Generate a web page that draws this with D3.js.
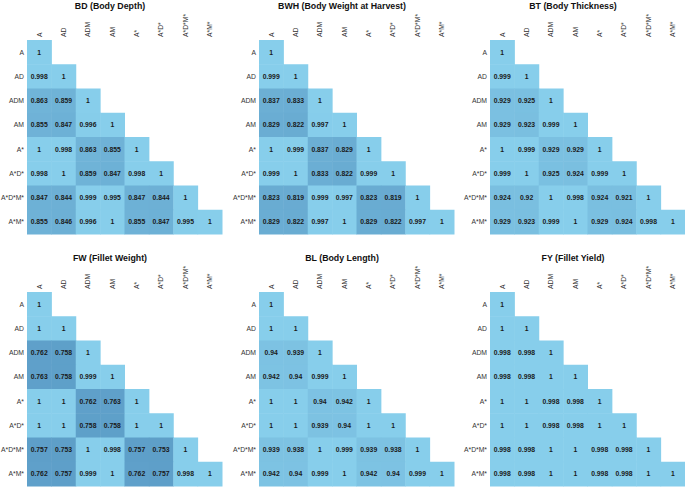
<!DOCTYPE html>
<html>
<head>
<meta charset="utf-8">
<script src="https://cdn.jsdelivr.net/npm/d3@7"></script>
<style>
  body { margin: 0; background: #fff; }
  svg { display: block; font-family: "Liberation Sans", Helvetica, Arial, sans-serif; }
  .title { font-weight: bold; font-size: 8.8px; fill: #111; }
  .lab { font-size: 6.8px; fill: #333; }
  .val { font-size: 6.8px; font-weight: bold; fill: #1a1a1a; }
</style>
</head>
<body>
<svg id="chart" width="685" height="487"></svg>
<script>
const labels = ['A', 'AD', 'ADM', 'AM', 'A*', 'A*D*', 'A*D*M*', 'A*M*'];

const titles = [
  'BD (Body Depth)', 'BWH (Body Weight at Harvest)', 'BT (Body Thickness)',
  'FW (Fillet Weight)', 'BL (Body Length)', 'FY (Fillet Yield)'
];

// lower triangles, row by row
const bd = [
  [1],
  [0.998, 1],
  [0.863, 0.859, 1],
  [0.855, 0.847, 0.996, 1],
  [1, 0.998, 0.863, 0.855, 1],
  [0.998, 1, 0.859, 0.847, 0.998, 1],
  [0.847, 0.844, 0.999, 0.995, 0.847, 0.844, 1],
  [0.855, 0.846, 0.996, 1, 0.855, 0.847, 0.995, 1]
];
const bwh = [
  [1],
  [0.999, 1],
  [0.837, 0.833, 1],
  [0.829, 0.822, 0.997, 1],
  [1, 0.999, 0.837, 0.829, 1],
  [0.999, 1, 0.833, 0.822, 0.999, 1],
  [0.823, 0.819, 0.999, 0.997, 0.823, 0.819, 1],
  [0.829, 0.822, 0.997, 1, 0.829, 0.822, 0.997, 1]
];
const bt = [
  [1],
  [0.999, 1],
  [0.929, 0.925, 1],
  [0.929, 0.923, 0.999, 1],
  [1, 0.999, 0.929, 0.929, 1],
  [0.999, 1, 0.925, 0.924, 0.999, 1],
  [0.924, 0.92, 1, 0.998, 0.924, 0.921, 1],
  [0.929, 0.923, 0.999, 1, 0.929, 0.924, 0.998, 1]
];
const fw = [
  [1],
  [1, 1],
  [0.762, 0.758, 1],
  [0.763, 0.758, 0.999, 1],
  [1, 1, 0.762, 0.763, 1],
  [1, 1, 0.758, 0.758, 1, 1],
  [0.757, 0.753, 1, 0.998, 0.757, 0.753, 1],
  [0.762, 0.757, 0.999, 1, 0.762, 0.757, 0.998, 1]
];
const bl = [
  [1],
  [1, 1],
  [0.94, 0.939, 1],
  [0.942, 0.94, 0.999, 1],
  [1, 1, 0.94, 0.942, 1],
  [1, 1, 0.939, 0.94, 1, 1],
  [0.939, 0.938, 1, 0.999, 0.939, 0.938, 1],
  [0.942, 0.94, 0.999, 1, 0.942, 0.94, 0.999, 1]
];
const fy = [
  [1],
  [1, 1],
  [0.998, 0.998, 1],
  [0.998, 0.998, 1, 1],
  [1, 1, 0.998, 0.998, 1],
  [1, 1, 0.998, 0.998, 1, 1],
  [0.998, 0.998, 1, 1, 0.998, 0.998, 1],
  [0.998, 0.998, 1, 1, 0.998, 0.998, 1, 1]
];

const matrices = [bd, bwh, bt, fw, bl, fy];

const svg = d3.select('#chart');

const gridW = 195, gridH = 194;
const colX = [27, 259, 490];
const rowY = [40, 292];

const color = d3.scaleLinear()
  .domain([0.75, 1])
  .range(['#5d9ec8', '#87ceeb'])
  .clamp(true);

const x = d3.scaleBand().domain(labels).range([0, gridW]);
const y = d3.scaleBand().domain(labels).range([0, gridH]);

matrices.forEach((m, k) => {
  const g = svg.append('g')
    .attr('transform', `translate(${colX[k % 3]},${rowY[Math.floor(k / 3)]})`);

  const cells = [];
  m.forEach((row, i) => row.forEach((v, j) => cells.push({ r: labels[i], c: labels[j], v })));

  g.selectAll('rect')
    .data(cells)
    .join('rect')
    .attr('x', d => x(d.c))
    .attr('y', d => y(d.r))
    .attr('width', x.bandwidth() + 0.5)
    .attr('height', y.bandwidth() + 0.5)
    .attr('fill', d => color(d.v));

  g.selectAll('text.val')
    .data(cells)
    .join('text')
    .attr('class', 'val')
    .attr('x', d => x(d.c) + x.bandwidth() / 2)
    .attr('y', d => y(d.r) + y.bandwidth() / 2)
    .attr('dy', '0.35em')
    .attr('text-anchor', 'middle')
    .text(d => d.v);

  // row labels
  g.selectAll('text.rl')
    .data(labels)
    .join('text')
    .attr('class', 'lab rl')
    .attr('x', -3)
    .attr('y', d => y(d) + y.bandwidth() / 2)
    .attr('dy', '0.35em')
    .attr('text-anchor', 'end')
    .text(d => d);

  // column labels, rotated
  g.selectAll('text.cl')
    .data(labels)
    .join('text')
    .attr('class', 'lab cl')
    .attr('transform', d => `translate(${x(d) + x.bandwidth() / 2 + 2.4},-3) rotate(-90)`)
    .attr('text-anchor', 'start')
    .text(d => d);

  g.append('text')
    .attr('class', 'title')
    .attr('x', 83)
    .attr('y', -31)
    .attr('text-anchor', 'middle')
    .text(titles[k]);
});
</script>
</body>
</html>
